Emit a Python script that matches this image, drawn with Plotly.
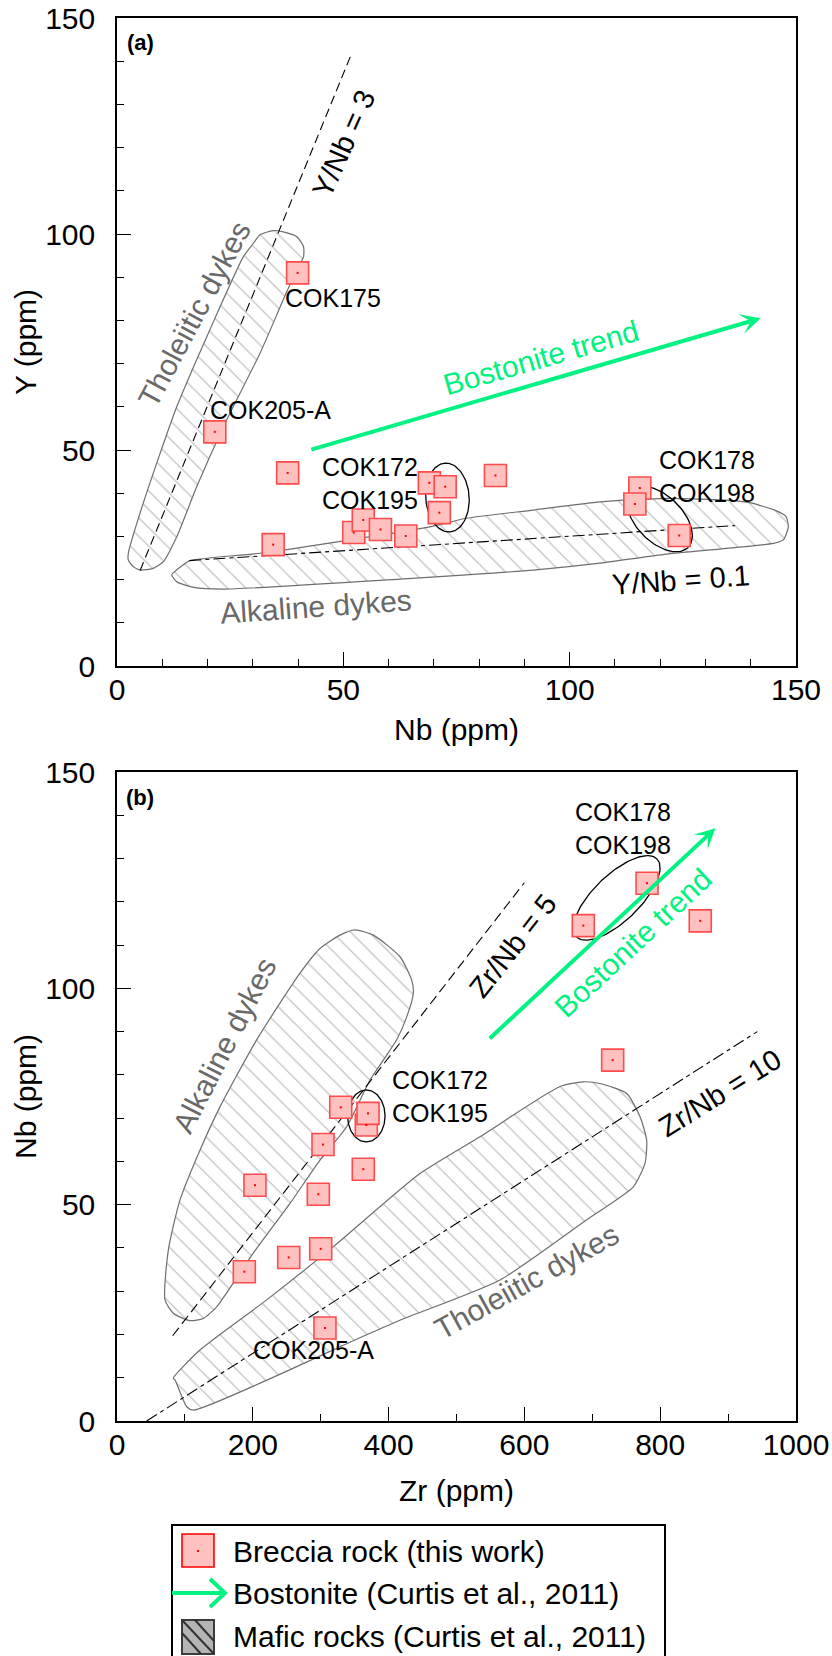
import numpy as np
import plotly.graph_objects as go

# ---------------- data ----------------
# Panel (a): Nb vs Y  (breccia samples, same order in both panels)
nb_a = [39.9, 21.6, 37.7, 34.5, 52.3, 54.4, 58.2, 63.8, 69.0, 72.5, 71.2, 83.6, 115.5, 114.4, 124.2]
y_a = [91.0, 54.2, 44.7, 28.1, 30.9, 33.8, 31.6, 30.1, 42.4, 41.5, 35.5, 44.1, 41.2, 37.5, 30.2]
# Panel (b): Zr vs Nb
zr_b = [300.0, 306.3, 252.9, 187.5, 296.5, 203.2, 362.7, 303.4, 367.2, 329.5, 369.7, 730.0, 859.0, 686.7, 780.6]
nb_b = [39.8, 21.5, 37.8, 34.5, 52.4, 54.5, 58.2, 63.9, 68.4, 72.5, 71.1, 83.4, 115.6, 114.5, 124.3]

# Mafic rock fields (Curtis et al., 2011)
thol_a_nb = [30.1, 27.9, 20.5, 13.2, 5.8, 2.5, 2.5, 3.6, 5.1, 8.0, 10.2, 13.2, 17.6, 24.2, 31.6, 36.7, 39.7, 41.2, 41.2, 39.7, 36.7, 34.5, 31.6, 30.1]
thol_a_y = [97.8, 94.7, 77.8, 60.0, 37.7, 26.1, 24.5, 23.0, 22.2, 22.6, 24.1, 29.9, 41.5, 56.9, 72.4, 84.7, 91.7, 94.7, 97.1, 99.4, 100.5, 100.8, 99.8, 97.8]
alk_a_nb = [12.1, 14.6, 16.1, 31.6, 51.5, 69.1, 77.2, 92.0, 106.7, 121.4, 136.1, 139.8, 145.7, 147.8, 148.3, 147.2, 145.0, 121.4, 106.7, 92.0, 77.2, 62.5, 23.5, 16.9, 13.2, 12.1]
alk_a_y = [21.1, 23.4, 24.4, 26.1, 29.2, 32.2, 34.2, 36.1, 38.0, 38.8, 38.3, 37.8, 35.9, 34.6, 32.2, 29.2, 28.4, 25.9, 23.8, 22.2, 21.1, 20.1, 17.8, 18.2, 19.5, 21.1]
alk_b_zr = [350.5, 377.5, 416.8, 434.0, 436.4, 426.7, 411.9, 392.2, 372.6, 338.3, 299.0, 254.8, 200.7, 146.8, 127.1, 107.5, 82.9, 70.7, 75.6, 92.8, 122.2, 151.7, 205.7, 269.5, 299.0, 328.4, 350.5]
alk_b_nb = [113.5, 112.3, 107.3, 101.9, 98.8, 93.4, 88.1, 83.4, 78.8, 68.0, 60.3, 50.3, 38.8, 26.4, 23.7, 23.2, 24.9, 28.0, 39.5, 51.1, 62.6, 72.6, 88.1, 103.5, 109.2, 112.3, 113.5]
thol_b_zr = [85.4, 102.7, 112.4, 353.0, 416.8, 564.1, 691.8, 760.4, 777.6, 780.1, 770.3, 750.7, 711.3, 686.7, 652.4, 534.6, 446.2, 318.6, 220.5, 122.2, 82.9, 85.4]
thol_b_nb = [9.5, 3.3, 2.5, 18.9, 23.3, 32.6, 46.5, 54.1, 59.6, 64.9, 70.3, 75.7, 78.0, 78.4, 77.3, 65.7, 57.2, 40.3, 28.0, 16.4, 9.9, 9.5]

# Bostonite trends (tail, tip)
bost_a_nb = [42.6, 142.2]
bost_a_y = [50.0, 80.5]
bost_b_zr = [546.8, 881.4]
bost_b_nb = [88.1, 137.0]

# Reference ratio lines
y3_nb = [5.1, 51.6]
y3_y = [22.1, 141.2]
y01_nb = [16.0, 136.5]
y01_y = [24.4, 32.5]
zr5_zr = [82.0, 599.9]
zr5_nb = [19.7, 124.4]
zr10_zr = [43.7, 943.0]
zr10_nb = [0.0, 90.0]

# Grouping ellipses: centre (data), semi-axes (px), angle (deg)
ell_a = [(73.0, 39.0, 34.5, 21.7, 94), (119.9, 34.0, 40.0, 23.0, -45)]
ell_b = [(367.2, 70.5, 26.0, 18.7, 90), (736.0, 120.9, 56.0, 23.0, 44)]

tick_a = [0, 50, 100, 150]
tick_bx = [0, 200, 400, 600, 800, 1000]
tick_by = [0, 50, 100, 150]

# ---------------- layout constants ----------------
W, H = 832, 1656
ML, MT = 117, 18
MR = W - 796
MB = H - 1421
PW, PH = W - ML - MR, H - MT - MB
FONT = "Liberation Sans, Arial, Helvetica, sans-serif"
GREEN = "rgb(0,242,128)"
GREY_TXT = "rgb(105,105,105)"
PINK = "rgb(255,192,192)"
RED = "rgb(255,75,75)"

A_TOP, A_BOT = 18, 666
B_TOP, B_BOT = 772, 1421
dom_a = [(B_BOT - A_BOT) / PH, (B_BOT - A_TOP) / PH]
dom_b = [0, (B_BOT - B_TOP) / PH]
ppx_a, ppy_a = PW / 150.0, (A_BOT - A_TOP) / 150.0
ppx_b, ppy_b = PW / 1000.0, (B_BOT - B_TOP) / 150.0


def ellipse(cx, cy, a, b, ang, ppx, ppy):
    t = np.linspace(0, 2 * np.pi, 120)
    al = np.radians(ang)
    u, v = a * np.cos(t), b * np.sin(t)
    dx = u * np.cos(al) - v * np.sin(al)
    dy = u * np.sin(al) + v * np.cos(al)
    return cx + dx / ppx, cy + dy / ppy


def P(px, py):
    """page pixel -> paper coordinates"""
    return (px - ML) / PW, (B_BOT - py) / PH


fig = go.Figure()

pattern = dict(shape="\\", size=13, solidity=0.1, fgcolor="rgb(135,135,135)", bgcolor="white")


def add_panel(xref, yref, fields, lines, xs, ys, ells, ppx, ppy):
    for fx, fy in fields:
        fig.add_trace(go.Scatter(x=fx, y=fy, mode="lines", fill="toself", fillcolor="white",
                                 fillpattern=pattern,
                                 line=dict(color="rgb(110,110,110)", width=1.2, shape="spline", smoothing=0.6),
                                 xaxis=xref, yaxis=yref, showlegend=False, hoverinfo="skip"))
    for lx, ly, dash in lines:
        fig.add_trace(go.Scatter(x=lx, y=ly, mode="lines", line=dict(color="black", width=1.1, dash=dash),
                                 xaxis=xref, yaxis=yref, showlegend=False, hoverinfo="skip"))
    for (cx, cy, a, b, ang) in ells:
        ex, ey = ellipse(cx, cy, a, b, ang, ppx, ppy)
        fig.add_trace(go.Scatter(x=ex, y=ey, mode="lines", line=dict(color="black", width=1.3),
                                 xaxis=xref, yaxis=yref, showlegend=False, hoverinfo="skip"))
    fig.add_trace(go.Scatter(x=xs, y=ys, mode="markers",
                             marker=dict(symbol="square", size=22, color=PINK, line=dict(color=RED, width=1.6)),
                             xaxis=xref, yaxis=yref, showlegend=False, hoverinfo="skip"))
    fig.add_trace(go.Scatter(x=xs, y=ys, mode="markers",
                             marker=dict(symbol="square", size=2, color="red"),
                             xaxis=xref, yaxis=yref, showlegend=False, hoverinfo="skip"))


add_panel("x", "y", [(thol_a_nb, thol_a_y), (alk_a_nb, alk_a_y)],
          [(y3_nb, y3_y, "9px,5px"), (y01_nb, y01_y, "12px,4px,4px,4px")],
          nb_a, y_a, ell_a, ppx_a, ppy_a)
add_panel("x2", "y2", [(alk_b_zr, alk_b_nb), (thol_b_zr, thol_b_nb)],
          [(zr5_zr, zr5_nb, "10px,5px"), (zr10_zr, zr10_nb, "12px,4px,4px,4px")],
          zr_b, nb_b, ell_b, ppx_b, ppy_b)

# Bostonite arrows
for xr, yr, bx, by in [("x", "y", bost_a_nb, bost_a_y), ("x2", "y2", bost_b_zr, bost_b_nb)]:
    fig.add_annotation(x=bx[1], y=by[1], ax=bx[0], ay=by[0], xref=xr, yref=yr, axref=xr, ayref=yr,
                       text="", showarrow=True, arrowhead=3, arrowsize=0.85, arrowwidth=4, arrowcolor=GREEN,
                       standoff=0, startstandoff=0)


def txt(x, y, s, xr, yr, size=26, color="black", angle=0, bold=False):
    fig.add_annotation(x=x, y=y, xref=xr, yref=yr, text=f"<b>{s}</b>" if bold else s, showarrow=False,
                       textangle=angle, font=dict(family=FONT, size=size, color=color),
                       xanchor="center", yanchor="middle")


# panel (a) labels
txt(5.1, 144.4, "(a)", "x", "y", size=22, bold=True)
txt(50.2, 121.0, "Y/Nb = 3", "x", "y", size=29, angle=-66)
txt(124.6, 19.9, "Y/Nb = 0.1", "x", "y", size=29, angle=-4)
txt(17.2, 81.5, "Tholeiitic dykes", "x", "y", size=30, color=GREY_TXT, angle=-62)
txt(44.0, 13.7, "Alkaline dykes", "x", "y", size=30, color=GREY_TXT, angle=-4)
txt(93.7, 71.5, "Bostonite trend", "x", "y", size=30, color=GREEN, angle=-16)
txt(47.8, 85.2, "COK175", "x", "y", size=25)
txt(34.0, 59.3, "COK205-A", "x", "y", size=25)
txt(55.9, 42.3, "COK172<br>COK195", "x", "y", size=25)
txt(130.3, 43.8, "COK178<br>COK198", "x", "y", size=25)

# panel (b) labels
txt(33.9, 144.2, "(b)", "x2", "y2", size=22, bold=True)
txt(745.2, 136.9, "COK178<br>COK198", "x2", "y2", size=25)
txt(582.5, 109.8, "Zr/Nb = 5", "x2", "y2", size=29, angle=-52)
txt(760.4, 110.6, "Bostonite trend", "x2", "y2", size=30, color=GREEN, angle=-43)
txt(475.7, 75.1, "COK172<br>COK195", "x2", "y2", size=25)
txt(888.0, 75.8, "Zr/Nb = 10", "x2", "y2", size=29, angle=-32)
txt(157.6, 86.9, "Alkaline dykes", "x2", "y2", size=30, color=GREY_TXT, angle=-63)
txt(603.4, 32.2, "Tholeiitic dykes", "x2", "y2", size=30, color=GREY_TXT, angle=-29)
txt(290.1, 16.4, "COK205-A", "x2", "y2", size=25)

# ---------------- legend (drawn) ----------------
shapes = []
x0, y0 = P(172, 1525)
x1, y1 = P(665, 1700)
shapes.append(dict(type="rect", xref="paper", yref="paper", x0=x0, y0=y1, x1=x1, y1=y0,
                   line=dict(color="black", width=2), fillcolor="white", layer="below"))
a0, b0 = P(182, 1534)
a1, b1 = P(214, 1567)
shapes.append(dict(type="rect", xref="paper", yref="paper", x0=a0, y0=b1, x1=a1, y1=b0,
                   line=dict(color="red", width=1.6), fillcolor=PINK))
d0, e0 = P(197, 1550)
d1, e1 = P(199, 1552)
shapes.append(dict(type="rect", xref="paper", yref="paper", x0=d0, y0=e1, x1=d1, y1=e0,
                   line=dict(width=0), fillcolor="red"))
# arrow
p = [P(172, 1593), P(224, 1593)]
shapes.append(dict(type="line", xref="paper", yref="paper", x0=p[0][0], y0=p[0][1], x1=p[1][0], y1=p[1][1],
                   line=dict(color=GREEN, width=4)))
c1, c2, c3 = P(210, 1579), P(225, 1593), P(210, 1607)
shapes.append(dict(type="path", xref="paper", yref="paper",
                   path=f"M{c1[0]},{c1[1]} L{c2[0]},{c2[1]} L{c3[0]},{c3[1]}",
                   line=dict(color=GREEN, width=4)))
# hatched square
h0, k0 = P(182, 1620)
h1, k1 = P(214, 1654)
shapes.append(dict(type="rect", xref="paper", yref="paper", x0=h0, y0=k1, x1=h1, y1=k0,
                   line=dict(color="rgb(60,60,60)", width=2), fillcolor="rgb(180,180,180)"))
for off in (-13, 0, 13):
    sx0, sy0 = 182 + max(off, 0), 1620 + max(-off, 0)
    sx1, sy1 = 214 + min(off, 0), 1654 - max(off, 0)
    q0, q1 = P(sx0, sy0), P(sx1, sy1)
    shapes.append(dict(type="line", xref="paper", yref="paper", x0=q0[0], y0=q0[1], x1=q1[0], y1=q1[1],
                       line=dict(color="rgb(50,50,50)", width=2)))
for yy, s in [(1551, "Breccia rock (this work)"), (1593, "Bostonite (Curtis et al., 2011)"),
              (1636, "Mafic rocks (Curtis et al., 2011)")]:
    lx, ly = P(231, yy)
    fig.add_annotation(x=lx, y=ly, xref="paper", yref="paper", text=s, showarrow=False,
                       xanchor="left", yanchor="middle", font=dict(family=FONT, size=30, color="black"))

axis_common = dict(showline=True, linewidth=1.5, linecolor="black", mirror=True, ticks="inside",
                   ticklen=14, tickwidth=1.3, tickcolor="black", showgrid=False, zeroline=False,
                   automargin=False, ticklabeloverflow="allow",
                   tickfont=dict(family=FONT, size=30, color="black"),
                   title_font=dict(family=FONT, size=30, color="black"))

fig.update_layout(
    width=W, height=H, margin=dict(l=ML, r=MR, t=MT, b=MB),
    paper_bgcolor="white", plot_bgcolor="white", showlegend=False,
    shapes=shapes,
    xaxis=dict(domain=[0, 1], anchor="y", range=[0, 150], tickvals=tick_a, ticklabelstandoff=-4,
               minor=dict(ticks="inside", ticklen=7, dtick=10, tick0=0, tickcolor="black"),
               title=dict(text="Nb (ppm)", standoff=14), **axis_common),
    yaxis=dict(domain=dom_a, anchor="x", range=[0, 150], tickvals=tick_a, ticklabelstandoff=14,
               minor=dict(ticks="inside", ticklen=7, dtick=10, tick0=0, tickcolor="black"),
               title=dict(text="Y (ppm)", standoff=0), **axis_common),
    xaxis2=dict(domain=[0, 1], anchor="y2", range=[0, 1000], tickvals=tick_bx, ticklabelstandoff=-4,
                minor=dict(ticks="inside", ticklen=7, dtick=100, tick0=0, tickcolor="black"),
                title=dict(text="Zr (ppm)", standoff=20), **axis_common),
    yaxis2=dict(domain=dom_b, anchor="x2", range=[0, 150], tickvals=tick_by, ticklabelstandoff=14,
                minor=dict(ticks="inside", ticklen=7, dtick=10, tick0=0, tickcolor="black"),
                title=dict(text="Nb (ppm)", standoff=0), **axis_common),
)

# remove the default 8px page margin so the figure fills the 832x1656 window exactly
fig.write_html("out.html", config={"displayModeBar": False},
               post_script="document.body.style.margin='0';document.body.style.overflow='hidden';")
